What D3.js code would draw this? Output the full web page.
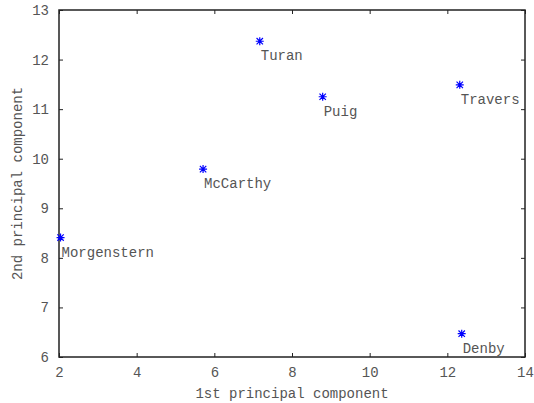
<!DOCTYPE html>
<meta charset="utf-8">
<script src="https://d3js.org/d3.v7.js"></script>
<style>
  body { margin: 0; background: #fff; }
  text { font-family: "Liberation Mono", "DejaVu Sans Mono", monospace; fill: #555; }
</style>
<div id="chart"></div>
<script>

var names = ["Turan", "Puig", "Travers", "McCarthy", "Morgenstern", "Denby"];
var pc1 = [7.17, 8.79, 12.32, 5.71, 2.04, 12.37];
var pc2 = [12.37, 11.25, 11.49, 9.79, 8.41, 6.47];
var xTicks = [2, 4, 6, 8, 10, 12, 14];
var yTicks = [6, 7, 8, 9, 10, 11, 12, 13];

var margin = {top: 10, right: 9, bottom: 46, left: 59},
    width = 534 - margin.left - margin.right,
    height = 403 - margin.top - margin.bottom;

var svg = d3.select("#chart")
  .append("svg")
    .attr("width", 534)
    .attr("height", 403)
  .append("g")
    .attr("transform", "translate(" + margin.left + "," + margin.top + ")");

var x = d3.scaleLinear().domain([2, 14]).range([0, width]);
var y = d3.scaleLinear().domain([6, 13]).range([height, 0]);

// ticks pointing inward on all four sides
function styleAxis(g) {
  g.select(".domain").remove();
  g.selectAll("line").attr("stroke", "#222").attr("stroke-width", 1);
  g.selectAll("text").style("font-size", "14px").attr("fill", "#555");
}

svg.append("g")
  .attr("transform", "translate(0," + height + ")")
  .call(d3.axisBottom(x).tickValues(xTicks).tickSize(-4).tickPadding(10).tickFormat(d3.format("d")))
  .call(styleAxis);
svg.append("g")
  .call(d3.axisTop(x).tickValues(xTicks).tickSize(-4).tickFormat(""))
  .call(styleAxis);
svg.append("g")
  .call(d3.axisLeft(y).tickValues(yTicks).tickSize(-4).tickPadding(10).tickFormat(d3.format("d")))
  .call(styleAxis);
svg.append("g")
  .attr("transform", "translate(" + width + ",0)")
  .call(d3.axisRight(y).tickValues(yTicks).tickSize(-4).tickFormat(""))
  .call(styleAxis);

svg.append("rect")
  .attr("width", width)
  .attr("height", height)
  .attr("fill", "none")
  .attr("stroke", "#222")
  .attr("stroke-width", 1.5);

var pts = names.map(function(n, i) { return {name: n, a: pc1[i], b: pc2[i]}; });

var r = 4;
svg.selectAll(".pt")
  .data(pts)
  .enter()
  .append("path")
    .attr("class", "pt")
    .attr("transform", function(d) { return "translate(" + x(d.a) + "," + y(d.b) + ")"; })
    .attr("d", "M" + -r + ",0H" + r + "M0," + -r + "V" + r +
               "M" + -r*0.8 + "," + -r*0.8 + "L" + r*0.8 + "," + r*0.8 +
               "M" + -r*0.8 + "," + r*0.8 + "L" + r*0.8 + "," + -r*0.8)
    .attr("stroke", "#0000ff")
    .attr("stroke-width", 1.2)
    .attr("fill", "none");

svg.selectAll(".lbl")
  .data(pts)
  .enter()
  .append("text")
    .attr("class", "lbl")
    .attr("x", function(d) { return x(d.a) + 1; })
    .attr("y", function(d) { return y(d.b) + 19; })
    .style("font-size", "14px")
    .text(function(d) { return d.name; });

svg.append("text")
  .attr("x", width / 2)
  .attr("y", height + 41)
  .attr("text-anchor", "middle")
  .style("font-size", "14px")
  .text("1st principal component");

svg.append("text")
  .attr("transform", "translate(-37," + height / 2 + ") rotate(-90)")
  .attr("text-anchor", "middle")
  .style("font-size", "14px")
  .text("2nd principal component");

</script>
